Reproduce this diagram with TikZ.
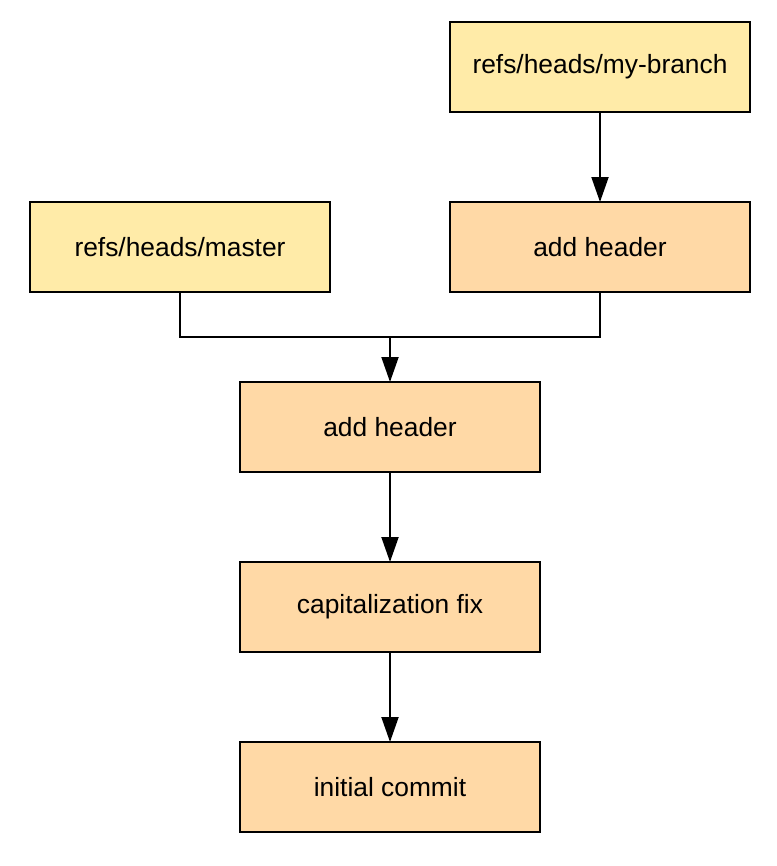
\documentclass[tikz,border=0pt]{standalone}
\usepackage{fontspec}
\setmainfont{Liberation Sans}
\usetikzlibrary{arrows.meta,positioning,calc}
\definecolor{ref-yellow}{HTML}{FFEBA8}
\definecolor{commit-orange}{HTML}{FFD9A6}

\begin{document}
\begin{tikzpicture}[
    box/.style={rectangle, draw=black, line width=1.1pt, outer sep=0pt, minimum width=6cm,
                minimum height=1.8cm, align=center, font=\fontsize{15}{18}\selectfont},
    ref/.style={box, fill=ref-yellow},
    commit/.style={box, fill=commit-orange},
    arrow/.style={-{Triangle[length=0.5cm, width=0.34cm]}, line width=1.1pt},
    node distance=1.8cm
]
  \useasboundingbox (0,0) rectangle (15.52,-17.32);

  % Branch refs
  \node[ref] (master) at (3.6,-4.94) {refs/heads/master};
  \node[commit, right=2.4cm of master] (head2) {add header};
  \node[ref, above=of head2] (branch) {refs/heads/my-branch};

  % Merge point
  \coordinate (merge) at ($(master.south)!0.5!(head2.south)+(0,-0.9)$);

  % Commit chain
  \node[commit, below=0.9cm of merge] (head1) {add header};
  \node[commit, below=of head1] (capfix) {capitalization fix};
  \node[commit, below=of capfix] (init) {initial commit};

  % Arrows
  \draw[arrow] (branch) -- (head2);
  \draw[line width=1.1pt] (master.south) |- (merge);
  \draw[line width=1.1pt] (head2.south) |- (merge);
  \draw[arrow] (merge) -- (head1);
  \draw[arrow] (head1) -- (capfix);
  \draw[arrow] (capfix) -- (init);

\end{tikzpicture}
\end{document}
